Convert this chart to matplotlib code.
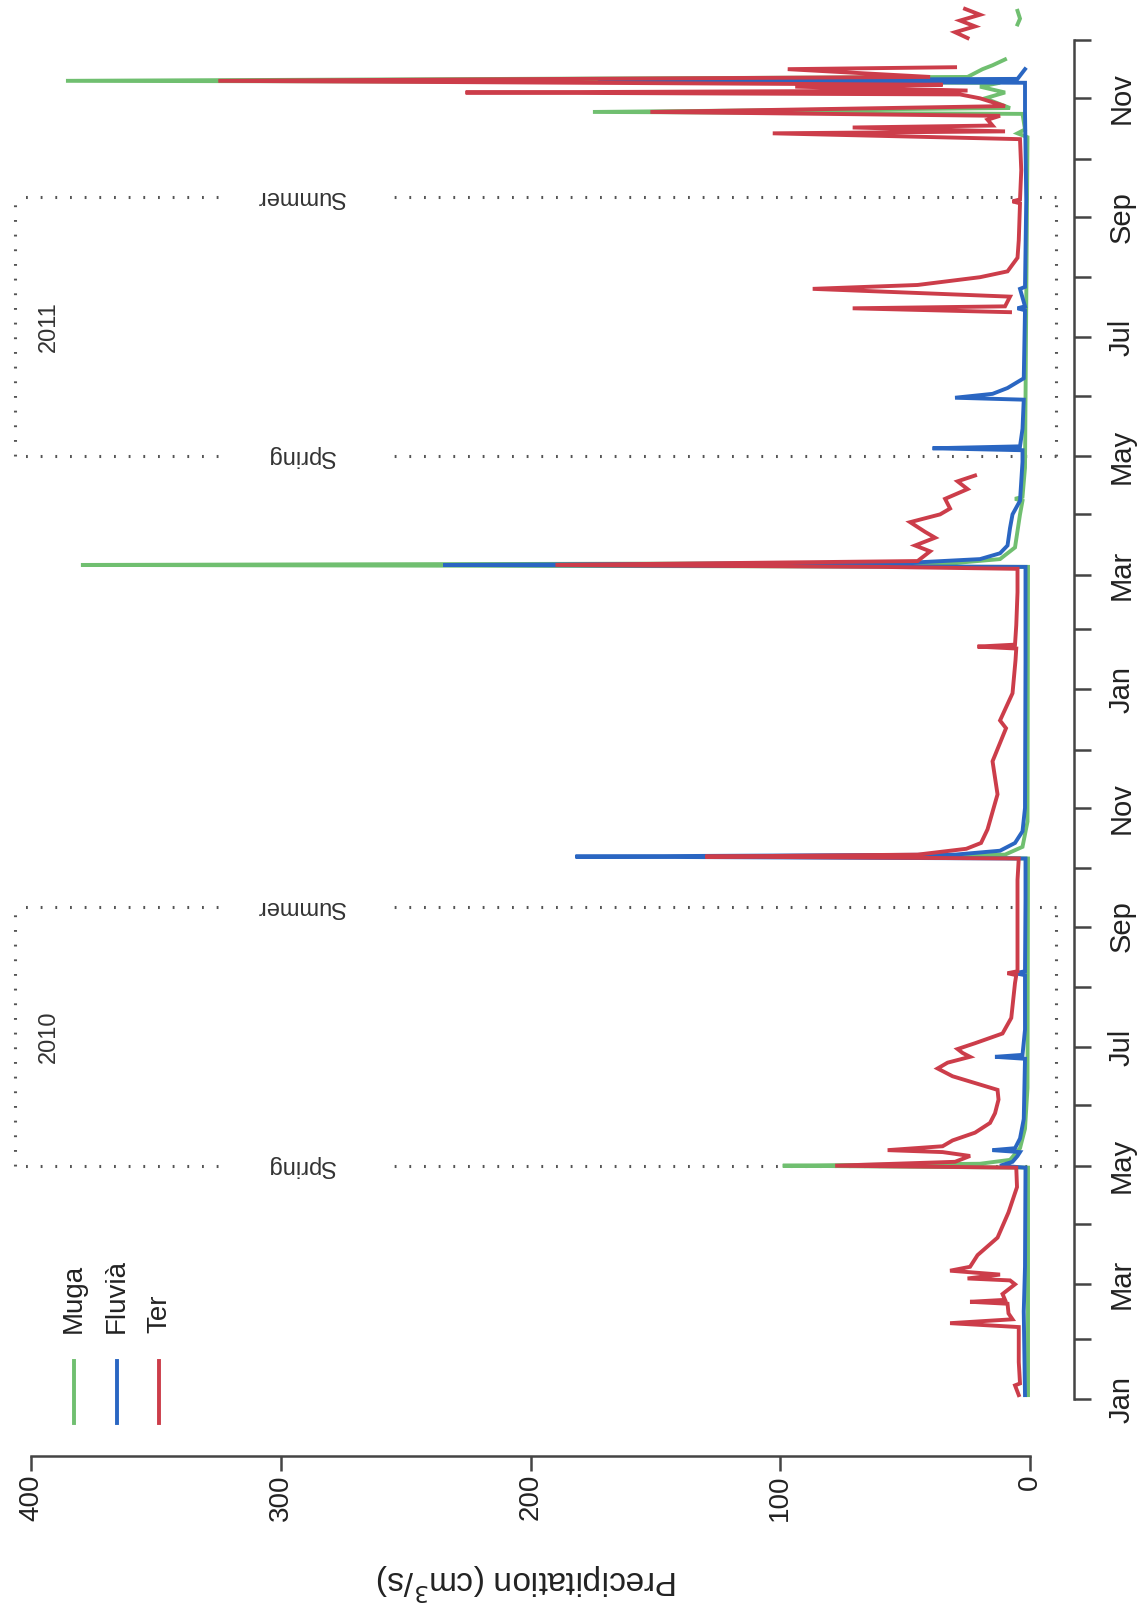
import matplotlib
matplotlib.use("Agg")
import numpy as np
import pandas as pd
from matplotlib import pyplot as plt
import matplotlib.dates as mdates
from matplotlib.lines import Line2D

plt.rcParams["font.family"] = ["Liberation Sans", "DejaVu Sans"]

nan = np.nan

# ---- data ----
muga_dates = [
    "2010-01-03", "2010-04-30", "2010-05-01", "2010-05-02", "2010-05-04", "2010-05-10",
    "2010-05-20", "2010-06-10", "2010-10-06", "2010-10-07", "2010-10-08", "2010-10-12",
    "2010-10-25", "2011-03-05", "2011-03-06", "2011-03-07", "2011-03-09", "2011-03-15",
    "2011-04-01", "2011-04-08", "2011-04-09", "2011-04-10", "2011-04-25", "2011-10-12",
    "2011-10-14", "2011-10-16", "2011-10-24", "2011-10-25", "2011-10-27", "2011-11-01",
    "2011-11-04", "2011-11-07", "2011-11-09", "2011-11-10", "2011-11-12", "2011-11-16",
    "2011-11-18", "2011-11-21", "2011-11-22", "2011-12-09", "2011-12-12", "2011-12-16",
]
muga_values = [
    0.8, 0.8, 99, 20, 8, 4,
    2, 1, 0.8, 40, 10, 3,
    1, 0.8, 380, 30, 12, 6,
    4, 3, 6, 3, 2, 1,
    5, 2, 3, 175, 8, 18,
    10, 20, 12, 386, 25, 19,
    15, 10, nan, 5, 4, 5,
]

fluvia_dates = [
    "2010-01-03", "2010-02-15", "2010-03-10", "2010-04-30", "2010-05-01", "2010-05-03",
    "2010-05-06", "2010-05-08", "2010-05-09", "2010-05-10", "2010-05-15", "2010-05-25",
    "2010-06-25", "2010-06-26", "2010-06-27", "2010-07-10", "2010-08-07", "2010-08-08",
    "2010-08-09", "2010-09-15", "2010-10-06", "2010-10-07", "2010-10-08", "2010-10-10",
    "2010-10-14", "2010-10-20", "2010-11-01", "2011-01-15", "2011-03-05", "2011-03-06",
    "2011-03-07", "2011-03-09", "2011-03-12", "2011-03-16", "2011-03-25", "2011-04-01",
    "2011-04-08", "2011-04-28", "2011-05-04", "2011-05-05", "2011-05-06", "2011-05-15",
    "2011-05-30", "2011-05-31", "2011-06-02", "2011-06-05", "2011-06-10", "2011-07-15",
    "2011-07-16", "2011-07-17", "2011-07-26", "2011-07-27", "2011-09-10", "2011-10-25",
    "2011-11-09", "2011-11-10", "2011-11-11", "2011-11-16",
]
fluvia_values = [
    2, 2.5, 2, 1.8, 12, 7,
    5, 4, 15, 6, 4, 2.5,
    2, 14, 3, 2, 2, 6,
    2, 1.8, 1.8, 182, 30, 12,
    6, 3, 2, 1.8, 1.8, 235,
    50, 20, 12, 9, 8, 7,
    4, 3, 3, 39, 4, 3,
    2.5, 30, 15, 9, 2.5, 2,
    5, 2, 4, 2, 1.5, 2,
    2, 173, 5, 2,
]

ter_dates = [
    "2010-01-03", "2010-01-08", "2010-01-09", "2010-01-20", "2010-02-07", "2010-02-09",
    "2010-02-11", "2010-02-14", "2010-02-19", "2010-02-20", "2010-02-21", "2010-02-24",
    "2010-03-01", "2010-03-03", "2010-03-04", "2010-03-06", "2010-03-08", "2010-03-10",
    "2010-03-16", "2010-03-25", "2010-04-07", "2010-04-20", "2010-04-30",
    "2010-05-01", "2010-05-03", "2010-05-06", "2010-05-08", "2010-05-09", "2010-05-11",
    "2010-05-14", "2010-05-18", "2010-05-23", "2010-05-28", "2010-06-04", "2010-06-09",
    "2010-06-16", "2010-06-20", "2010-06-23", "2010-06-26", "2010-06-28", "2010-06-30",
    "2010-07-03", "2010-07-08", "2010-07-16", "2010-08-03", "2010-08-07", "2010-08-08",
    "2010-08-09", "2010-08-20", "2010-09-11", "2010-09-25", "2010-10-06",
    "2010-10-07", "2010-10-08", "2010-10-11", "2010-10-14", "2010-10-21", "2010-11-08",
    "2010-11-25", "2010-12-12", "2010-12-16", "2010-12-30", "2011-01-16", "2011-01-22",
    "2011-01-23", "2011-01-24", "2011-02-03", "2011-02-20", "2011-03-04", "2011-03-05",
    "2011-03-06", "2011-03-08", "2011-03-13", "2011-03-16", "2011-03-20", "2011-03-23",
    "2011-03-28", "2011-04-01", "2011-04-04", "2011-04-09", "2011-04-14", "2011-04-18",
    "2011-04-21", "2011-04-22",
    "2011-07-14", "2011-07-16", "2011-07-17", "2011-07-22", "2011-07-26", "2011-07-28",
    "2011-08-01", "2011-08-04", "2011-08-11", "2011-08-20", "2011-09-08", "2011-09-09",
    "2011-09-10", "2011-09-25", "2011-10-11",
    "2011-10-14", "2011-10-15", "2011-10-17", "2011-10-18", "2011-10-21", "2011-10-23",
    "2011-10-25", "2011-10-28", "2011-11-01", "2011-11-03", "2011-11-04", "2011-11-05",
    "2011-11-07", "2011-11-08", "2011-11-10", "2011-11-12", "2011-11-16", "2011-11-17",
    "2011-11-18",
    "2011-12-02", "2011-12-05", "2011-12-08", "2011-12-11", "2011-12-14", "2011-12-17",
]
ter_values = [
    4.5, 6, 4, 4.5, 4.5, 32,
    7, 8.6, 9, 24, 10, 11,
    6, 8, 25, 12, 32, 24,
    21, 13, 8.6, 5.2, 5.5,
    78, 30, 24, 35, 57, 35,
    31, 22, 16, 14, 12.6, 13,
    31, 37, 33, 24, 27, 29,
    22, 11, 7.5, 6, 5.5, 9,
    5, 5, 5, 5, 4.5,
    130, 45, 25.5, 19.6, 17, 13,
    15, 9.6, 12, 7, 5.8, 5.5,
    21, 6, 5.5, 5, 5, 60,
    190, 45, 40, 46, 38, 42,
    48, 36, 32, 34, 25, 29,
    22, nan,
    8, 71, 10, 8, 87, 45,
    20, 9, 5, 4.5, 4, 7,
    4, 3.5, 4,
    103, 10, 71, 15, 17, 12,
    152, 10, 20, 28, 226, 25,
    94, 35, 325, 40, 97, 30,
    nan,
    25, 30, 22, 28, 20, 26,
]

series_names = ["Muga", "Fluvià", "Ter"]
series_colors = ["#70bf70", "#2a66c2", "#cc3d4a"]

month_ticks = pd.date_range("2010-01-01", "2011-12-01", freq="MS")
value_ticks = [0, 100, 200, 300, 400]

spring_dates = ["2010-05-01", "2011-05-01"]
summer_dates = ["2010-09-11", "2011-09-11"]
year_labels = ["2010", "2011"]


def dnum(d):
    return mdates.date2num(pd.Timestamp(d))


# ---- layout (figure pixels) ----
W, H = 1144, 1619
fig = plt.figure(figsize=(W / 100, H / 100), dpi=100)
fig.patch.set_facecolor("white")

ax_left, ax_right, ax_top, ax_bottom = 10, 1060, 0, 1420
ax = fig.add_axes([ax_left / W, 1 - ax_bottom / H,
                   (ax_right - ax_left) / W, (ax_bottom - ax_top) / H])

# value axis: 400 at x=31 px, 0 at x=1030 px (inverted, horizontal)
px_per_unit = (1030 - 31) / 400
ax.set_xlim((1030 - ax_left) / px_per_unit, (1030 - ax_right) / px_per_unit)

# time axis: Jan 2010 at y=1399 px, Dec 2011 at y=40 px (vertical)
t0 = dnum("2010-01-01")
t1 = dnum("2011-12-01")
px_per_day = (1399 - 40) / (t1 - t0)
ax.set_ylim(t0 - (ax_bottom - 1399) / px_per_day, t0 + (1399 - ax_top) / px_per_day)

# ---- season boxes ----
dot = dict(color="#555555", lw=2.2, linestyle=(0, (0.6, 4.2)), zorder=1)
for sp, su, yr in zip(spring_dates, summer_dates, year_labels):
    sp, su = dnum(sp), dnum(su)
    for d, lab in [(sp, "Spring"), (su, "Summer")]:
        ax.plot([-10.5, 257], [d, d], **dot)
        ax.plot([325, 406.5], [d, d], **dot)
        ax.text(292, d, lab, rotation=180, ha="center", va="center",
                fontsize=17, color="#333333")
    ax.plot([406.5, 406.5], [sp, su], **dot)
    ax.plot([-10.5, -10.5], [sp, su], **dot)
    ax.text(393, (sp + su) / 2, yr, rotation=90, ha="center", va="center",
            fontsize=17, color="#333333")

# ---- series ----
for dates, vals, c in [(muga_dates, muga_values, series_colors[0]),
                       (fluvia_dates, fluvia_values, series_colors[1]),
                       (ter_dates, ter_values, series_colors[2])]:
    ax.plot(vals, [dnum(d) for d in dates], color=c, lw=2.8, zorder=3,
            solid_joinstyle="miter", clip_on=False)

# ---- axes styling ----
for s in ["top", "left"]:
    ax.spines[s].set_visible(False)
ax.spines["bottom"].set_position(("outward", (1456 - ax_bottom) * 0.72))
ax.spines["bottom"].set_bounds(0, 400)
ax.spines["right"].set_position(("outward", (1074 - ax_right) * 0.72))
ax.spines["right"].set_bounds(t0, t1)
for s in ["bottom", "right"]:
    ax.spines[s].set_linewidth(1.8)
    ax.spines[s].set_color("#444444")

ax.set_xticks(value_ticks)
ax.set_xticklabels([str(v) for v in value_ticks], rotation=90, fontsize=20,
                   color="#222222")
ax.yaxis.tick_right()
ax.set_yticks([mdates.date2num(m) for m in month_ticks])
ax.set_yticklabels([m.strftime("%b") if m.month % 2 == 1 else "" for m in month_ticks],
                   rotation=90, fontsize=21, color="#222222", va="center")
ax.tick_params(axis="x", direction="out", length=11, width=1.8, color="#444444", pad=2)
ax.tick_params(axis="y", direction="out", length=12, width=1.8, color="#444444", pad=12)
ax.patch.set_alpha(0)

fig.text(527 / W, 1 - 1582 / H, "Precipitation (cm$^3$/s)", rotation=180,
         ha="center", va="center", fontsize=24, color="#222222")

# ---- legend (drawn by hand, rotated) ----
for i, (name, c) in enumerate(zip(series_names, series_colors)):
    x = (74 + 42.5 * i) / W
    fig.add_artist(Line2D([x, x], [1 - 1423 / H, 1 - 1361 / H], color=c, lw=2.8))
    fig.text(x, 1 - 1333 / H, name, rotation=90, ha="center", va="bottom",
             fontsize=20, color="#222222")

fig.savefig("out.png", dpi=100)
